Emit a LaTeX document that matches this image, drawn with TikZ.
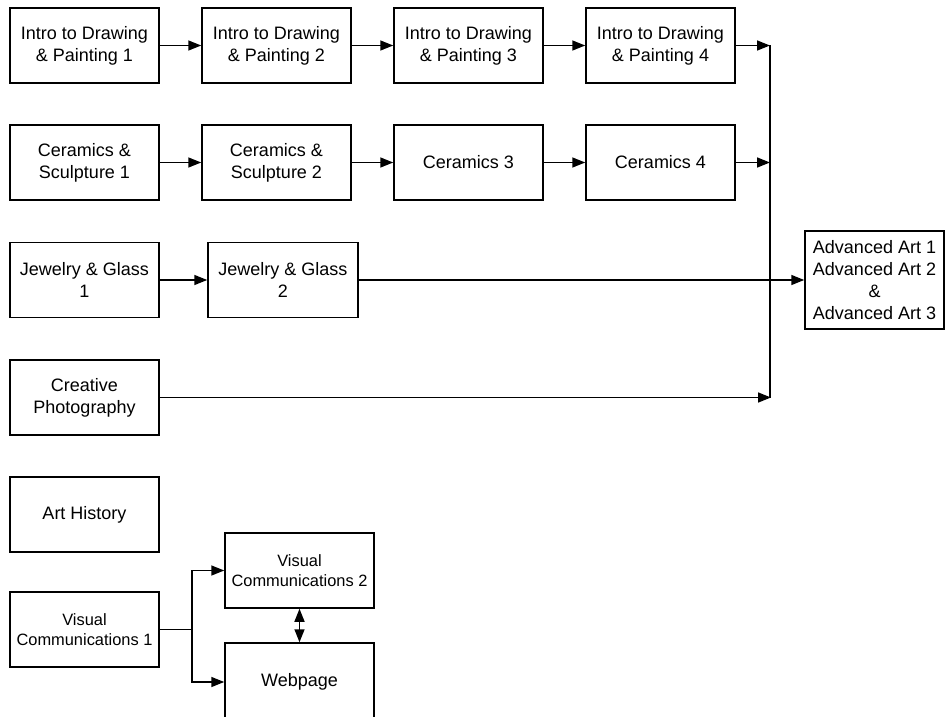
\documentclass[tikz,border=0pt]{standalone}
\usepackage{fontspec}
\setmainfont{Liberation Sans}
\usetikzlibrary{arrows.meta}
\begin{document}
\begin{tikzpicture}[x=1pt,y=-1pt,
  box/.style={draw, line width=1.5pt, minimum width=149pt, minimum height=75pt, align=center, inner sep=0pt, font=\fontsize{18}{22}\selectfont},
  small/.style={font=\fontsize{16.4}{20}\selectfont},
  arr/.style={line width=1.5pt, -{Triangle[length=13pt,width=10pt]}},
  darr/.style={line width=1.5pt, {Triangle[length=13pt,width=10pt]}-{Triangle[length=13pt,width=10pt]}},
  ln/.style={line width=1.5pt}]
\useasboundingbox (0,0) rectangle (946,717);
\clip (0,0) rectangle (946,717);
\fill[white] (0,0) rectangle (946,717);
% row 1
\node[box] (i1) at (84.5,45.5) {Intro to Drawing\\\& Painting 1};
\node[box] (i2) at (276.5,45.5) {Intro to Drawing\\\& Painting 2};
\node[box] (i3) at (468.5,45.5) {Intro to Drawing\\\& Painting 3};
\node[box] (i4) at (660.5,45.5) {Intro to Drawing\\\& Painting 4};
% row 2
\node[box] (c1) at (84.5,162.5) {Ceramics \&\\Sculpture 1};
\node[box] (c2) at (276.5,162.5) {Ceramics \&\\Sculpture 2};
\node[box] (c3) at (468.5,162.5) {Ceramics 3};
\node[box] (c4) at (660.5,162.5) {Ceramics 4};
% row 3
\node[box] (j1) at (84.5,280) {Jewelry \& Glass\\1};
\node[box, minimum width=150pt] (j2) at (283,280) {Jewelry \& Glass\\2};
% row 4
\node[box] (cp) at (84.5,397.5) {Creative\\Photography};
% advanced
\node[box, minimum width=139pt, minimum height=98pt] (adv) at (874.5,280) {Advanced Art 1\\Advanced Art 2\\\&\\Advanced Art 3};
% bottom
\node[box] (ah) at (84.5,514.5) {Art History};
\node[box, small] (vc1) at (84.5,629.5) {Visual\\Communications 1};
\node[box, small] (vc2) at (299.5,570.5) {Visual\\Communications 2};
\node[box, minimum height=78pt] (wp) at (299.5,682) {Webpage};
% connectors
\draw[arr] (i1) -- (i2);
\draw[arr] (i2) -- (i3);
\draw[arr] (i3) -- (i4);
\draw[arr] (c1) -- (c2);
\draw[arr] (c2) -- (c3);
\draw[arr] (c3) -- (c4);
\draw[arr] (j1) -- (j2);
\coordinate (m1) at (770,45.5);
\coordinate (m2) at (770,162.5);
\coordinate (m4) at (771,397.5);
\draw[arr] (i4) -- (m1);
\draw[arr] (c4) -- (m2);
\draw[arr] (cp) -- (m4);
\draw[ln] (m1) -- (770,397.5);
\draw[arr] (j2) -- (adv);
\coordinate (v) at (192,629.5);
\draw[ln] (vc1) -- (v);
\draw[arr] (v) |- (vc2);
\draw[arr] (v) |- (wp);
\draw[darr] (vc2) -- (wp);
\end{tikzpicture}
\end{document}
